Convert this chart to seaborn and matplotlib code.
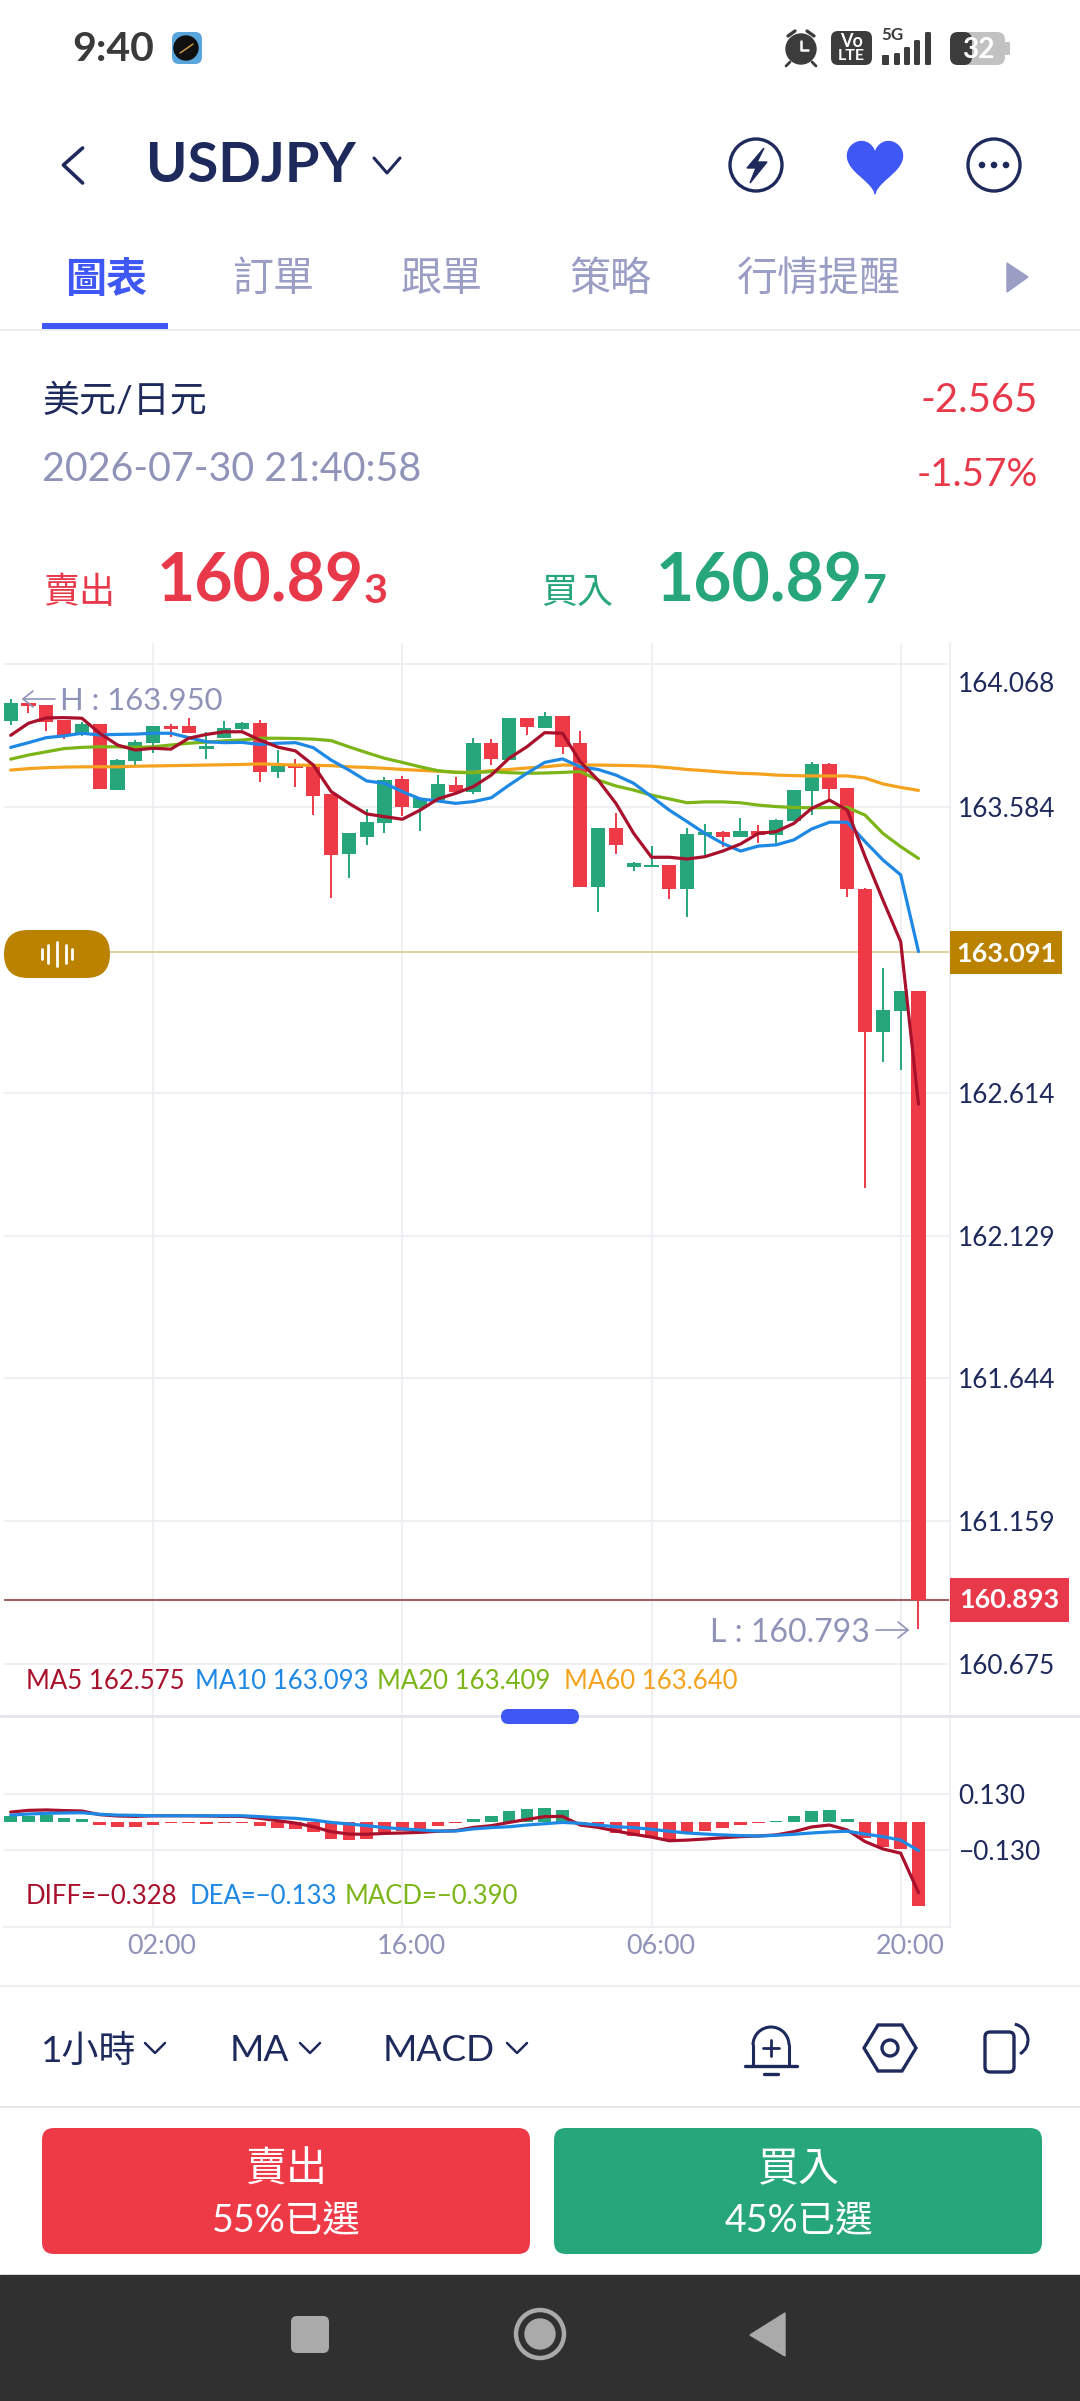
import numpy as np
import pandas as pd
import matplotlib
matplotlib.use("Agg")
import matplotlib.pyplot as plt
import seaborn as sns
from matplotlib.patches import Circle, FancyBboxPatch, Polygon, Rectangle, Arc
from matplotlib.transforms import ScaledTranslation

# ── DATA ─────────────────────────────────────────────────────
opens = [163.875, 163.938, 163.931, 163.879, 163.828, 163.865, 163.642, 163.740, 163.802, 163.860,
         163.857, 163.782, 163.818, 163.848, 163.868, 163.701, 163.724, 163.723, 163.628, 163.423,
         163.483, 163.530, 163.680, 163.581, 163.607, 163.659, 163.636, 163.800, 163.743, 163.887,
         163.853, 163.892, 163.802, 163.313, 163.514, 163.381, 163.380, 163.388, 163.304, 163.489,
         163.500, 163.483, 163.502, 163.489, 163.536, 163.638, 163.730, 163.649, 163.306, 162.821,
         162.891, 162.960]
highs = [163.950, 163.941, 163.931, 163.879, 163.873, 163.865, 163.745, 163.811, 163.860, 163.865,
         163.885, 163.839, 163.874, 163.873, 163.879, 163.777, 163.745, 163.732, 163.628, 163.494,
         163.576, 163.687, 163.689, 163.613, 163.693, 163.684, 163.819, 163.813, 163.887, 163.887,
         163.905, 163.892, 163.842, 163.514, 163.562, 163.397, 163.452, 163.388, 163.511, 163.526,
         163.502, 163.547, 163.521, 163.543, 163.642, 163.736, 163.734, 163.649, 163.310, 163.037,
         162.960, 162.960]
lows = [163.862, 163.904, 163.840, 163.813, 163.825, 163.645, 163.641, 163.720, 163.766, 163.820,
        163.836, 163.747, 163.818, 163.845, 163.670, 163.681, 163.653, 163.558, 163.274, 163.341,
        163.453, 163.494, 163.554, 163.502, 163.607, 163.630, 163.628, 163.725, 163.743, 163.827,
        163.853, 163.763, 163.313, 163.228, 163.424, 163.366, 163.380, 163.270, 163.211, 163.421,
        163.449, 163.483, 163.460, 163.455, 163.536, 163.556, 163.607, 163.277, 162.290, 162.718,
        162.691, 160.793]
closes = [163.938, 163.926, 163.872, 163.825, 163.866, 163.645, 163.742, 163.805, 163.860, 163.848,
          163.836, 163.792, 163.852, 163.869, 163.704, 163.723, 163.715, 163.621, 163.422, 163.494,
          163.532, 163.675, 163.582, 163.613, 163.662, 163.636, 163.801, 163.745, 163.887, 163.854,
          163.892, 163.786, 163.313, 163.514, 163.455, 163.392, 163.386, 163.304, 163.493, 163.498,
          163.482, 163.501, 163.487, 163.539, 163.642, 163.730, 163.646, 163.304, 162.821, 162.895,
          162.960, 160.893]

ma5 = [163.827, 163.868, 163.886, 163.887, 163.885, 163.834, 163.794, 163.777, 163.783, 163.780,
       163.817, 163.830, 163.839, 163.839, 163.811, 163.787, 163.774, 163.726, 163.636, 163.596,
       163.560, 163.551, 163.542, 163.573, 163.611, 163.630, 163.653, 163.692, 163.749, 163.788,
       163.836, 163.834, 163.737, 163.675, 163.596, 163.494, 163.413, 163.413, 163.407, 163.415,
       163.434, 163.458, 163.494, 163.500, 163.528, 163.579, 163.607, 163.573, 163.415, 163.268,
       163.126, 162.575]
ma10 = [163.786, 163.802, 163.819, 163.825, 163.834, 163.828, 163.830, 163.831, 163.834, 163.834,
        163.819, 163.805, 163.802, 163.803, 163.796, 163.800, 163.802, 163.785, 163.743, 163.709,
        163.672, 163.664, 163.636, 163.611, 163.604, 163.596, 163.602, 163.615, 163.658, 163.698,
        163.735, 163.747, 163.720, 163.711, 163.692, 163.664, 163.619, 163.573, 163.534, 163.494,
        163.460, 163.434, 163.451, 163.455, 163.472, 163.509, 163.532, 163.532, 163.466, 163.404,
        163.353, 163.093]
ma20 = [163.746, 163.760, 163.771, 163.782, 163.786, 163.788, 163.788, 163.786, 163.788, 163.794,
        163.800, 163.804, 163.808, 163.811, 163.817, 163.817, 163.816, 163.814, 163.809, 163.788,
        163.768, 163.749, 163.735, 163.720, 163.707, 163.701, 163.700, 163.704, 163.700, 163.698,
        163.699, 163.701, 163.704, 163.675, 163.655, 163.641, 163.624, 163.611, 163.598, 163.601,
        163.601, 163.598, 163.590, 163.585, 163.582, 163.581, 163.582, 163.582, 163.556, 163.494,
        163.449, 163.409]
ma60 = [163.709, 163.714, 163.717, 163.719, 163.720, 163.720, 163.720, 163.722, 163.723, 163.724,
        163.725, 163.726, 163.727, 163.728, 163.730, 163.728, 163.726, 163.725, 163.724, 163.720,
        163.718, 163.715, 163.711, 163.708, 163.705, 163.702, 163.701, 163.707, 163.711, 163.716,
        163.720, 163.726, 163.726, 163.726, 163.725, 163.724, 163.722, 163.717, 163.711, 163.707,
        163.702, 163.698, 163.696, 163.692, 163.690, 163.689, 163.689, 163.689, 163.682, 163.662,
        163.650, 163.640]

macd_hist = [0.029, 0.029, 0.032, 0.019, 0.012, -0.015, -0.025, -0.022, -0.012, -0.006,
             -0.005, -0.009, -0.005, -0.003, -0.019, -0.028, -0.034, -0.045, -0.079, -0.085,
             -0.080, -0.045, -0.042, -0.032, -0.019, -0.006, 0.014, 0.028, 0.050, 0.059,
             0.065, 0.054, -0.008, -0.029, -0.050, -0.063, -0.073, -0.084, -0.053, -0.042,
             -0.028, -0.014, -0.005, 0.003, 0.028, 0.053, 0.056, 0.012, -0.076, -0.118,
             -0.127, -0.390]
diff = [0.046, 0.054, 0.056, 0.053, 0.051, 0.034, 0.028, 0.026, 0.029, 0.029,
        0.029, 0.028, 0.026, 0.026, 0.017, 0.006, -0.005, -0.022, -0.045, -0.056,
        -0.057, -0.053, -0.051, -0.048, -0.043, -0.040, -0.025, -0.017, -0.002, 0.012,
        0.025, 0.026, -0.014, -0.025, -0.042, -0.057, -0.070, -0.087, -0.084, -0.079,
        -0.073, -0.068, -0.065, -0.060, -0.045, -0.023, -0.014, -0.037, -0.091, -0.125,
        -0.145, -0.328]
dea = [0.032, 0.037, 0.040, 0.042, 0.043, 0.036, 0.032, 0.031, 0.029, 0.029,
       0.029, 0.029, 0.029, 0.029, 0.025, 0.020, 0.017, 0.009, -0.002, -0.009,
       -0.017, -0.026, -0.032, -0.037, -0.042, -0.042, -0.032, -0.026, -0.022, -0.014,
       -0.008, -0.002, -0.006, -0.014, -0.022, -0.026, -0.034, -0.043, -0.051, -0.056,
       -0.060, -0.063, -0.065, -0.062, -0.057, -0.051, -0.046, -0.043, -0.056, -0.068,
       -0.084, -0.133]

price_ticks = [164.068, 163.584, 162.614, 162.129, 161.644, 161.159, 160.675]
macd_ticks = [0.130, -0.130]
time_idx = [8, 22, 36, 50]
time_labels = ["02:00", "16:00", "06:00", "20:00"]
current_mid = 163.091
last_price = 160.893

# ── STYLE ────────────────────────────────────────────────────
W, H = 1080, 2401
RED, GREEN = "#ee3a47", "#27a67c"
NAVY, LAV = "#1f2a5c", "#8f93b8"
BLUE = "#3e57f5"
GOLD = "#bb8200"
GRID = "#eeeef3"
MA_COLORS = {"MA5": "#a8102c", "MA10": "#1e88e5", "MA20": "#7cb518", "MA60": "#f5a31f"}

sns.set_theme(style="white")
plt.rcParams["font.family"] = ["Lato", "Noto Sans CJK TC", "DejaVu Sans"]

fig = plt.figure(figsize=(W / 100, H / 100), dpi=100, facecolor="white")


def px_axes(x0, y0, x1, y1, **kw):
    return fig.add_axes([x0 / W, 1 - y1 / H, (x1 - x0) / W, (y1 - y0) / H], **kw)


# bar index -> pixel: 10.7 + 17.8 * i, chart runs 4..950 px
xlim = ((4 - 10.7) / 17.8, (950 - 10.7) / 17.8)
idx = np.arange(len(opens))

# ── CANDLES + MA ─────────────────────────────────────────────
ax = px_axes(4, 643, 950, 1716)
ax.patch.set_alpha(0)
o, h, l, c = map(np.array, (opens, highs, lows, closes))
colors = np.where(c >= o, GREEN, RED)
ax.vlines(idx, l, h, colors=colors, linewidth=1.4, zorder=2)
ax.bar(idx, np.maximum(np.abs(c - o), 0.004), bottom=np.minimum(o, c), width=0.79,
       color=colors, linewidth=0, zorder=2)
ma_df = pd.DataFrame({"bar": idx, "MA5": ma5, "MA10": ma10, "MA20": ma20, "MA60": ma60})
ma_long = ma_df.melt(id_vars="bar", var_name="ma", value_name="price")
sns.lineplot(data=ma_long, x="bar", y="price", hue="ma", palette=MA_COLORS,
             hue_order=["MA60", "MA20", "MA10", "MA5"], estimator=None, linewidth=2.3,
             legend=False, ax=ax, zorder=3)
ax.axhline(current_mid, color="#dcc88f", linewidth=1.2, zorder=1)
ax.axhline(last_price, color="#a2605f", linewidth=1.5, zorder=1)
ax.set_xlim(xlim)
ax.set_ylim(164.068 - (1716 - 664.3) / 294.6, 164.068 + (664.3 - 643) / 294.6)

# ── MACD ─────────────────────────────────────────────────────
ax2 = px_axes(4, 1716, 950, 1927)
ax2.patch.set_alpha(0)
hist_side = np.where(np.array(macd_hist) >= 0, "up", "down")
sns.barplot(x=idx, y=macd_hist, hue=hist_side, palette={"up": GREEN, "down": RED},
            native_scale=True, dodge=False, width=0.7, saturation=1, legend=False,
            linewidth=0, ax=ax2, zorder=2)
macd_df = pd.DataFrame({"bar": idx, "DIFF": diff, "DEA": dea}).melt(id_vars="bar", var_name="s", value_name="v")
sns.lineplot(data=macd_df, x="bar", y="v", hue="s", palette={"DIFF": MA_COLORS["MA5"], "DEA": MA_COLORS["MA10"]},
             hue_order=["DIFF", "DEA"], estimator=None, linewidth=2.3, legend=False, ax=ax2, zorder=3)
ax2.set_xlim(xlim)
ax2.set_ylim((1822 - 1927) / 215.4, (1822 - 1716) / 215.4)

for a, ticks, fmt in ((ax, price_ticks, "{:.3f}"), (ax2, macd_ticks, "{:.3f}")):
    a.set_xlabel("")
    a.set_ylabel("")
    a.yaxis.tick_right()
    a.set_yticks(ticks)
    a.set_yticklabels([fmt.format(t).replace("-", "\u2212") for t in ticks])
    a.set_xticks(time_idx)
    a.tick_params(axis="y", length=0, pad=6, labelsize=18.9, labelcolor=NAVY)
    a.tick_params(axis="x", length=0, labelbottom=False)
    a.grid(True, color=GRID, linewidth=1.3, zorder=0)
    a.set_axisbelow(True)
    for side, sp in a.spines.items():
        sp.set_visible(side == "right")
        sp.set_color(GRID)
        sp.set_linewidth(1.3)
# the top price label hangs under its gridline
top_lbl = ax.get_yticklabels()[0]
top_lbl.set_transform(top_lbl.get_transform() + ScaledTranslation(0, -0.18, fig.dpi_scale_trans))
ax2.spines["bottom"].set_visible(True)
ax2.spines["bottom"].set_color(GRID)
ax2.spines["bottom"].set_linewidth(1.3)

# ── APP CHROME (pixel coordinates) ───────────────────────────
ui = fig.add_axes([0, 0, 1, 1], zorder=5)
ui.set_xlim(0, W)
ui.set_ylim(H, 0)
ui.axis("off")
ui.patch.set_alpha(0)


def txt(x, y, s, size, color=NAVY, ha="left", weight="normal", va="center"):
    # matplotlib's centre sits a little high for these fonts
    return ui.text(x, y + 2.5, s, fontsize=size * 0.72, color=color, ha=ha, va=va, fontweight=weight, zorder=6)


def box(x0, y0, x1, y1, color, r=0, **kw):
    kw.setdefault("zorder", 3)
    ui.add_patch(FancyBboxPatch((x0, y0), x1 - x0, y1 - y0, boxstyle=f"round,pad=0,rounding_size={r}",
                                facecolor=color, edgecolor="none", **kw))


def stroke(xs, ys, color=NAVY, lw=2.2):
    ui.plot(xs, ys, color=color, linewidth=lw, solid_capstyle="round", solid_joinstyle="round", zorder=4)


# status bar
txt(72, 47, "9:40", 41, "#3a3a3a", weight="bold")
box(172, 32, 202, 64, "#5aa5dc", r=7)
ui.add_patch(Circle((186, 48), 12, color="#101010", zorder=4))
ui.plot([180, 186, 193], [53, 49, 44], color="#d9a441", linewidth=1, zorder=5)
ui.add_patch(Circle((801, 49), 15, color="#3c3c3c"))
stroke([801, 801, 808], [41, 50, 50], "white", 1.8)
stroke([788, 795], [36, 31], "#3c3c3c", 2.4)
stroke([814, 807], [36, 31], "#3c3c3c", 2.4)
stroke([790, 786], [62, 66], "#3c3c3c", 2)
stroke([812, 816], [62, 66], "#3c3c3c", 2)
box(831, 31, 872, 65, "#3c3c3c", r=7)
txt(851.5, 39, "Vo", 18, "white", ha="center", weight="bold")
txt(851.5, 54, "LTE", 16, "white", ha="center", weight="bold")
txt(881, 33, "5G", 17, "#3c3c3c", weight="bold")
for bx, by in zip([894, 904, 914, 925], [53, 47, 40, 32]):
    box(bx, by, bx + 6, 65, "#3c3c3c", r=1.5)
box(882, 55, 889, 65, "#3c3c3c", r=1)
box(950, 32, 1005, 65, "#c2c2c2", r=8)
box(950, 32, 972, 65, "#3c3c3c", r=8)
box(1005, 42, 1010, 55, "#c2c2c2", r=1.5)
txt(978, 47, "32", 28, "white", ha="center", weight="bold")

# header
stroke([82.6, 63.4, 82.6], [148, 165, 183], NAVY, 2.6)
txt(146, 164, "USDJPY", 56, NAVY, weight="bold")
stroke([374, 387, 400], [158, 173, 158], NAVY, 2.2)
ui.add_patch(Circle((756, 165), 26, facecolor="none", edgecolor=NAVY, linewidth=2.4))
ui.add_patch(Polygon([[764, 148], [747, 168], [756, 168], [750, 183], [767, 162], [757, 162]], color=NAVY))
t = np.linspace(0, 2 * np.pi, 200)
ui.add_patch(Polygon(np.c_[875 + 1.72 * 16 * np.sin(t) ** 3,
                           163 - 1.8 * (13 * np.cos(t) - 5 * np.cos(2 * t) - 2 * np.cos(3 * t) - np.cos(4 * t))],
                     color=BLUE))
ui.add_patch(Circle((994, 165), 26, facecolor="none", edgecolor=NAVY, linewidth=2.4))
for dx in (982, 994, 1006):
    ui.add_patch(Circle((dx, 165), 2.6, color=NAVY))

# tabs
txt(65, 277, "圖表", 41, BLUE, weight="bold")
for x0, s in zip([232, 401, 569, 737], ["訂單", "跟單", "策略", "行情提醒"]):
    txt(x0, 277, s, 41, "#9a9dc4")
ui.add_patch(Polygon([[1007, 263], [1028, 277], [1007, 292]], color="#9a9dc4"))
box(42, 323, 168, 329, BLUE)
ui.plot([0, W], [330, 330], color="#e8e8ee", linewidth=1.3)

# quote block
txt(42, 398, "美元/日元", 37, NAVY)
txt(42, 467, "2026-07-30 21:40:58", 39.5, LAV)
txt(1038, 398, "-2.565", 40, "#e8394a", ha="right")
txt(1038, 473, "-1.57%", 38.5, "#e8394a", ha="right")
txt(43, 590, "賣出", 36, "#e8394a")
txt(157, 580, "160.89", 66, "#e8394a", weight="bold")
txt(364, 589, "3", 41, "#e8394a", weight="bold")
txt(541, 590, "買入", 36, GREEN)
txt(656, 580, "160.89", 66, GREEN, weight="bold")
txt(862, 589, "7", 41, GREEN, weight="bold")

# high / low markers
txt(60, 699, "H : 163.950", 31, LAV)
stroke([23, 55], [699, 699], LAV, 1.2)
stroke([33, 23, 33], [691, 699, 707], LAV, 1.2)
txt(870, 1630, "L : 160.793", 32, LAV, ha="right")
stroke([876, 908], [1630, 1630], LAV, 1.2)
stroke([898, 908, 898], [1622, 1630, 1638], LAV, 1.2)

# price tags
box(4, 930, 110, 978, GOLD, r=24)
for dx, hh in zip([42, 48, 57, 66, 72], [5, 9, 12, 9, 5]):
    stroke([dx, dx], [954 - hh, 954 + hh], "white", 2)
box(950, 931, 1062, 974, GOLD)
txt(1006, 951, f"{current_mid:.3f}", 27, "white", ha="center", weight="bold")
box(950, 1578, 1069, 1622, "#e8394a")
txt(1009, 1598, f"{last_price:.3f}", 27, "white", ha="center", weight="bold")

# MA legend row
for x0, s, k in zip([26, 195, 377, 564],
                    ["MA5 162.575", "MA10 163.093", "MA20 163.409", "MA60 163.640"],
                    ["MA5", "MA10", "MA20", "MA60"]):
    txt(x0, 1679, s, 25.8, MA_COLORS[k])
ui.plot([0, W], [1716, 1716], color="#e3e4ee", linewidth=2, zorder=1)
box(501, 1709, 579, 1724, BLUE, r=7.5)

# MACD legend row
for x0, s, k in zip([26, 190, 345],
                    ["DIFF=\u22120.328", "DEA=\u22120.133", "MACD=\u22120.390"],
                    ["MA5", "MA10", "MA20"]):
    txt(x0, 1894, s, 25.8, MA_COLORS[k])

# time axis labels sit just right of their gridlines
for i, s in zip(time_idx, time_labels):
    txt(10.7 + 17.8 * i + 9, 1944, s, 27, LAV, ha="center")
ui.plot([0, W], [1986, 1986], color="#eeeef2", linewidth=1.3)

# toolbar
txt(41, 2048, "1小時", 37, NAVY)
txt(230, 2048, "MA", 37, NAVY)
txt(383, 2048, "MACD", 37, NAVY)
for cx in (155, 310, 517):
    stroke([cx - 10, cx, cx + 10], [2043, 2053, 2043], NAVY, 1.8)
# bell
stroke([745, 797], [2066, 2066], NAVY, 2.4)
stroke([753, 753], [2066, 2045], NAVY, 2.2)
stroke([789, 789], [2066, 2045], NAVY, 2.2)
ui.add_patch(Arc((771, 2045), 36, 36, theta1=180, theta2=360, color=NAVY, linewidth=2.2))
stroke([771, 771], [2040, 2056], NAVY, 2)
stroke([763, 779], [2048, 2048], NAVY, 2)
stroke([764, 778], [2074, 2074], NAVY, 2.4)
# hexagon
ui.add_patch(Polygon([[878, 2025], [902, 2025], [916, 2048], [902, 2071], [878, 2071], [864, 2048]],
                     closed=True, facecolor="none", edgecolor=NAVY, linewidth=2.4))
ui.add_patch(Circle((890, 2048), 8, facecolor="none", edgecolor=NAVY, linewidth=2.4))
# rotate
ui.add_patch(FancyBboxPatch((985, 2032), 29, 40, boxstyle="round,pad=0,rounding_size=5",
                            facecolor="none", edgecolor=NAVY, linewidth=2.4))
ui.add_patch(Arc((1012, 2040), 32, 32, theta1=280, theta2=60, color=NAVY, linewidth=2.2))
ui.plot([0, W], [2107, 2107], color="#e4e4e8", linewidth=1.3)

# buttons
box(42, 2128, 530, 2254, RED, r=12)
box(554, 2128, 1042, 2254, GREEN, r=12)
txt(286, 2167, "賣出", 41, "white", ha="center")
txt(286, 2218, "55%已選", 37.5, "white", ha="center")
txt(799, 2167, "買入", 41, "white", ha="center")
txt(799, 2218, "45%已選", 37.5, "white", ha="center")

# nav bar
ui.add_patch(Rectangle((0, 2275), W, H - 2275, color="#303030"))
box(291, 2316, 329, 2353, "#aaaaaa", r=6)
ui.add_patch(Circle((540, 2334), 24, facecolor="none", edgecolor="#aaaaaa", linewidth=3.2))
ui.add_patch(Circle((540, 2334), 15, color="#aaaaaa"))
ui.add_patch(Polygon([[785, 2313], [750, 2335], [785, 2356]], color="#aaaaaa"))

fig.savefig("out.png", dpi=100)
